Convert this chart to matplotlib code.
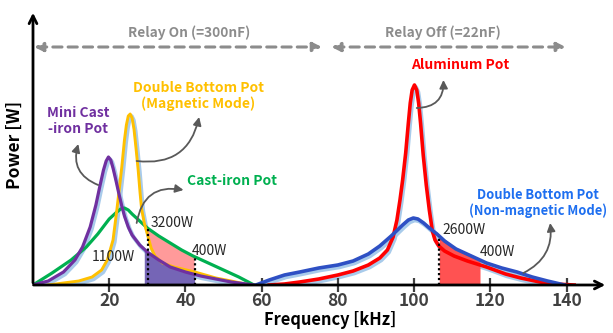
import matplotlib.pyplot as plt
import matplotlib.transforms as mtransforms
import numpy as np

# ---- data (power in arbitrary units) ----
freq_mini = [0, 4, 8, 11, 13, 15, 16.5, 17.5, 18.5, 19.2, 19.8, 20.4, 21, 21.8, 22.5, 23.3, 24, 25,
             26, 28, 30, 33, 36, 40, 44, 48, 52, 56, 58]
pow_mini = [0, 4, 13, 25, 38, 58, 80, 98, 115, 124, 128, 125, 117, 104, 92, 79, 69, 58,
            50, 40, 33, 25, 18, 13, 9, 6, 3, 1, 0]

freq_mag = [4, 8, 12, 15.5, 18, 19.5, 21, 22, 22.7, 23.3, 24, 24.5, 25, 25.5, 26, 26.5, 27, 27.6,
            28.1, 28.5, 29.2, 30, 31, 32, 34, 37, 42.5, 48, 52, 57]
pow_mag = [0, 2, 4, 8, 15, 25, 45, 75, 98, 118, 145, 160, 169, 171, 167, 156, 138, 115,
           92, 76, 62, 51, 37, 29, 22, 18, 13, 7, 4, 0]

freq_cast = [0, 5, 10, 14, 17, 20, 22, 23, 24, 25, 26, 28, 30, 33, 36, 39, 42, 46, 50, 54, 58]
pow_cast = [0, 12, 25, 38, 51, 66, 73, 76, 77, 75, 71, 64, 57, 49, 42, 35, 29, 22, 15, 8, 0]

freq_al = [62, 66, 70, 75, 80, 84, 88, 91, 93, 94.5, 95.5, 96.3, 97, 97.8, 98.5, 99, 99.5, 100.1,
           100.7, 101.2, 101.7, 102.4, 103.2, 104, 104.8, 105.5, 106.5, 108, 110.5, 114, 119, 124,
           128, 133, 137, 142]
pow_al = [0, 1, 3, 6, 10, 14, 20, 27, 35, 48, 65, 85, 105, 132, 162, 182, 195, 200,
          195, 182, 162, 130, 100, 75, 54, 45, 39, 34, 29, 24, 18, 11, 7, 3, 1, 0]

freq_nm = [58.5, 62, 66, 70, 75, 80, 84, 88, 91, 94, 97, 98.5, 99.8, 101, 102.5, 104, 106, 108,
           111, 115, 119, 123, 127, 131, 135, 139.5]
pow_nm = [0, 5, 10, 13, 17, 20, 24, 31, 39, 49, 60, 65, 67, 66, 62, 57, 51, 44,
          36, 29, 22, 17, 13, 8, 4, 0]

xticks = [20, 40, 60, 80, 100, 120, 140]
band_low = (30.1, 42.4)      # shaded band, low-frequency side
band_low_start = 29.2
band_high = (106.6, 117.3)   # shaded band, high-frequency side

plt.rcParams['font.family'] = ['Noto Sans CJK KR', 'DejaVu Sans']

fig = plt.figure(figsize=(6.13, 3.33), dpi=100)
ax = fig.add_axes([33 / 613, 48 / 333, 580 / 613, 285 / 333])
ax.set_xlim(0, 152.2)
ax.set_ylim(0, 285)
for s in ax.spines.values():
    s.set_visible(False)
ax.set_yticks([])

# halo under the curves
halo = mtransforms.offset_copy(ax.transData, fig=fig, x=1.5, y=-2.2, units='dots')
for fx, py in [(freq_mini, pow_mini), (freq_mag, pow_mag), (freq_al, pow_al), (freq_nm, pow_nm)]:
    ax.plot(fx, py, color='#A8CBEB', lw=3.0, transform=halo, solid_capstyle='round', zorder=1)

# shaded regions
m = (np.array(freq_mini) >= band_low_start) & (np.array(freq_mini) <= band_low[1])
xs = np.r_[band_low_start, np.array(freq_mini)[m], band_low[1]]
ys = np.r_[np.interp(band_low_start, freq_mini, pow_mini), np.array(pow_mini)[m],
           np.interp(band_low[1], freq_mini, pow_mini)]
ax.fill_between(xs, 0, ys, color='#7565B6', lw=0, zorder=2)

g = (np.array(freq_cast) > band_low[0]) & (np.array(freq_cast) < band_low[1])
top_x = np.r_[band_low[0], np.array(freq_cast)[g], band_low[1]]
top_y = np.r_[np.interp(band_low[0], freq_cast, pow_cast), np.array(pow_cast)[g],
              np.interp(band_low[1], freq_cast, pow_cast)]
k = (np.array(freq_mag) > band_low[0]) & (np.array(freq_mag) < band_low[1])
bot_x = np.r_[band_low[0], np.array(freq_mag)[k], band_low[1]]
bot_y = np.r_[np.interp(band_low[0], freq_mag, pow_mag), np.array(pow_mag)[k],
              np.interp(band_low[1], freq_mag, pow_mag)]
ax.fill(np.r_[top_x, bot_x[::-1]], np.r_[top_y, bot_y[::-1]], color='#FF9A9A', lw=0, zorder=2)

h = (np.array(freq_nm) > band_high[0]) & (np.array(freq_nm) < band_high[1])
hx = np.r_[band_high[0], np.array(freq_nm)[h], band_high[1]]
hy = np.r_[np.interp(band_high[0], freq_nm, pow_nm), np.array(pow_nm)[h],
           np.interp(band_high[1], freq_nm, pow_nm)]
ax.fill_between(hx, 0, hy, color='#FF5252', lw=0, zorder=2)

# curves
ax.plot(freq_cast, pow_cast, color='#00B050', lw=2.3, zorder=3)
ax.plot(freq_mag, pow_mag, color='#FFC000', lw=2.1, zorder=3)
ax.plot(freq_mini, pow_mini, color='#7030A0', lw=2.3, zorder=4)
ax.plot(freq_al, pow_al, color='#FF0000', lw=2.6, zorder=3)
ax.plot(freq_nm, pow_nm, color='#2E50C4', lw=2.6, zorder=4)

# dotted markers
for xv, (fx, py) in [(band_low[0], (freq_cast, pow_cast)), (band_low[1], (freq_cast, pow_cast)),
                     (band_high[0], (freq_nm, pow_nm))]:
    ax.plot([xv, xv], [0, np.interp(xv, fx, py)], color='black', ls=(0, (1, 1.2)), lw=1.6, zorder=5)

# axes with arrows
ax.annotate('', xy=(150.9, 0), xytext=(-0.6, 0), arrowprops=dict(arrowstyle='->', lw=2, color='black',
            mutation_scale=14), annotation_clip=False, zorder=6)
ax.annotate('', xy=(0, 275), xytext=(0, -0.6), arrowprops=dict(arrowstyle='->', lw=2, color='black',
            mutation_scale=14), annotation_clip=False, zorder=6)
ax.set_xticks(xticks)
ax.tick_params(axis='x', direction='inout', length=10, width=1.6, color='#404040', pad=0,
               labelsize=12.5, labelcolor='#404040')
for lab in ax.get_xticklabels():
    lab.set_fontweight('bold')
ax.set_xlabel('Frequency [kHz]', fontsize=11.8, fontweight='bold')
ax.xaxis.set_label_coords(0.512, -0.09)
ax.set_ylabel('Power [W]', fontsize=12.5, fontweight='bold')
ax.yaxis.set_label_coords(-0.015, 0.49)

# relay ranges
gray = '#8C8C8C'
for x0, x1, txt, xc in [(0.3, 75.8, 'Relay On (=300nF)', 41), (78.3, 139.8, 'Relay Off (=22nF)', 107.6)]:
    ax.annotate('', xy=(x1, 238), xytext=(x0, 238),
                arrowprops=dict(arrowstyle='<|-|>', lw=2.2, color=gray, ls=(0, (3, 2)),
                                mutation_scale=13, shrinkA=0, shrinkB=0))
    ax.text(xc, 252, txt, color=gray, fontsize=9.8, fontweight='bold', ha='center', va='center')

# labels
lab_kw = dict(fontsize=10, fontweight='bold', ha='center', va='center')
ax.text(112, 220, 'Aluminum Pot', color='#FF0000', **lab_kw)
ax.text(43.3, 189, 'Double Bottom Pot\n(Magnetic Mode)', color='#FFC000', linespacing=1.1, **lab_kw)
ax.text(11.8, 164, 'Mini Cast\n-iron Pot', color='#7030A0', linespacing=1.2, **lab_kw)
ax.text(52.2, 104, 'Cast-iron Pot', color='#00B050', **lab_kw)
ax.text(132.6, 82, 'Double Bottom Pot\n(Non-magnetic Mode)', color='#1E6FF0', linespacing=1.15,
        fontsize=9.3, fontweight='bold', ha='center', va='center')

for x, y, s in [(36.5, 62, '3200W'), (46.2, 34, '400W'), (21, 28, '1100W'),
                (113.1, 55, '2600W'), (122, 33, '400W')]:
    ax.text(x, y, s, color='#262626', fontsize=10, ha='center', va='center')

# pointer arrows
arrow_kw = dict(arrowstyle='-|>', lw=1.3, color='#595959', mutation_scale=12, shrinkA=0, shrinkB=0)
pointers = [((17.1, 100), (11.9, 141), 'arc3,rad=-0.45'),
            ((27.2, 124), (43.6, 168), 'arc3,rad=0.45'),
            ((27.2, 62), (39.5, 95), 'arc3,rad=-0.5'),
            ((100.7, 177), (107.7, 205), 'arc3,rad=0.5'),
            ((128.7, 12), (135.7, 62), 'arc3,rad=0.35')]
for start, end, conn in pointers:
    ax.annotate('', xy=end, xytext=start, arrowprops=dict(arrow_kw, connectionstyle=conn), zorder=7)

fig.savefig('out.png', dpi=100)
